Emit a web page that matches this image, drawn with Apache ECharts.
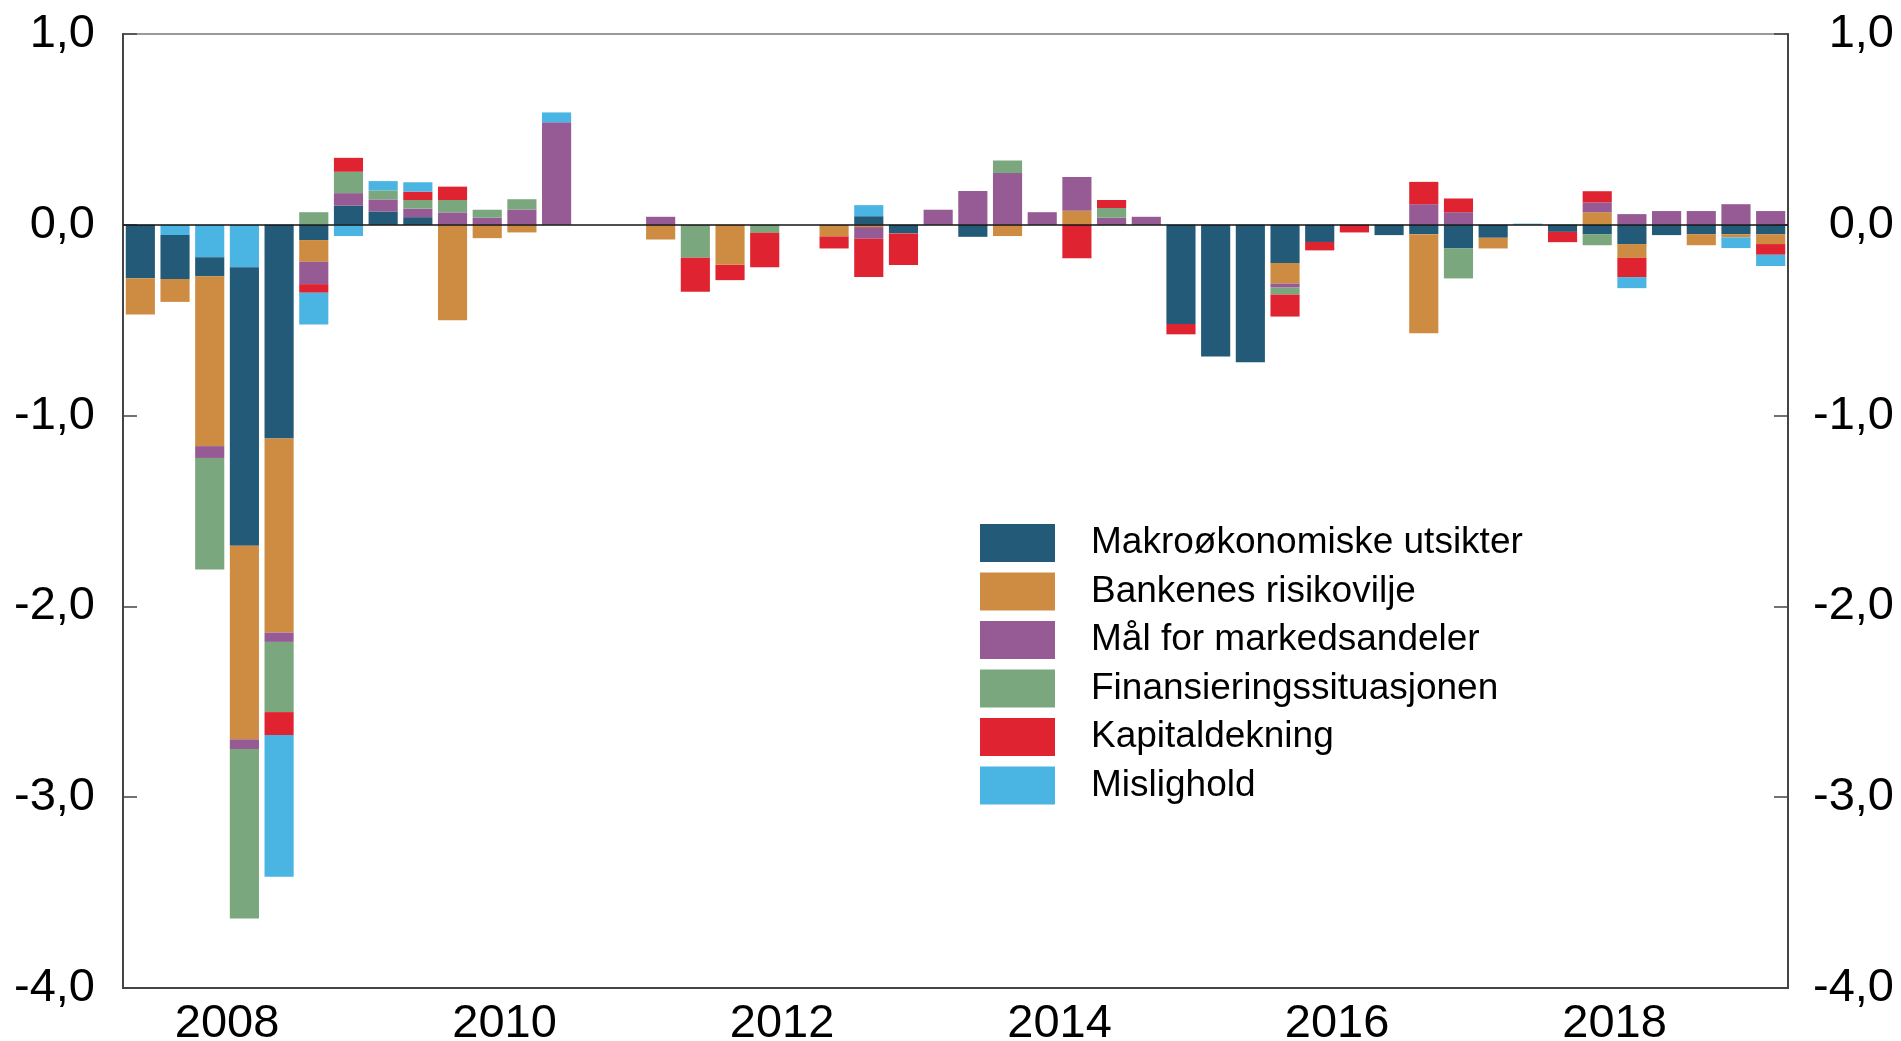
<!DOCTYPE html>
<html>
<head>
<meta charset="utf-8">
<script src="https://cdn.jsdelivr.net/npm/echarts@6/dist/echarts.min.js"></script>
<style>
html,body{margin:0;padding:0;background:#fff;}
#chart{width:1901px;height:1041px;}
</style>
</head>
<body>
<div id="chart"></div>
<script>
// Quarters 2007K4 .. 2019K3
const quarters = [];
for (let y = 2007; y <= 2019; y++) {
  for (let q = 1; q <= 4; q++) {
    if ((y === 2007 && q < 4) || (y === 2019 && q > 3)) continue;
    quarters.push(y + 'K' + q);
  }
}
const yearLabels = ['2008', '2010', '2012', '2014', '2016', '2018'];
const yTicks = [-4, -3, -2, -1, 0, 1];

const seriesNames = ['Makroøkonomiske utsikter', 'Bankenes risikovilje', 'Mål for markedsandeler',
  'Finansieringssituasjonen', 'Kapitaldekning', 'Mislighold'];

const makro = [-0.28,-0.23,-0.10,-1.46,-1.12,-0.08,0.10,0.07,0.04,0,0,0,
  0,0,0,0,0,0,0,0,0,0.045,-0.045,0,
  -0.063,0,0,0,0,0,-0.52,-0.69,-0.72,-0.20,-0.09,0,
  -0.054,-0.049,-0.124,-0.068,0,-0.037,-0.049,-0.101,-0.054,-0.049,-0.049,-0.049];
const bank = [-0.19,-0.12,-0.89,-1.015,-1.017,-0.114,0,0,0,-0.50,-0.07,-0.04,
  0,0,0,-0.077,0,-0.21,0,0,-0.061,-0.012,0,0,
  0,-0.059,0,0.073,0,0,0,0,0,-0.108,0,0,
  0,-0.519,0,-0.056,0,0,0.066,-0.072,0,-0.058,-0.017,-0.052];
const maal = [0,0,-0.062,-0.051,-0.049,-0.117,0.066,0.063,0.045,0.065,0.037,0.08,
  0.537,0,0,0.042,0,0,0,0,0,-0.061,0,0.079,
  0.177,0.271,0.066,0.177,0.037,0.042,0,0,0,-0.021,0,0,
  0,0.108,0.066,0,0,0,0.051,0.056,0.072,0.072,0.108,0.072];
const finans = [0,0,-0.585,-0.888,-0.368,0.066,0.112,0.047,0.045,0.065,0.042,0.054,
  0,0,0,0,-0.173,0,-0.042,0,0,0,0,0,
  0,0.066,0,0,0.051,0,0,0,0,-0.037,0,0,
  0,0,-0.157,0,0,0,-0.058,0,0,0,0,0];
const kapital = [0,0,0,0,-0.12,-0.045,0.073,0,0.044,0.07,0,0,
  0,0,0,0,-0.178,-0.08,-0.18,0,-0.063,-0.20,-0.166,0,
  0,0,0,-0.175,0.042,0,-0.054,0,0,-0.115,-0.044,-0.04,
  0,0.117,0.072,0,0,-0.054,0.059,-0.101,0,0,0,-0.056];
const mislighold = [0,-0.054,-0.17,-0.222,-0.743,-0.166,-0.059,0.049,0.049,0,0,0,
  0.052,0,0,0,0,0,0,0,0,0.058,0,0,
  0,0,0,0,0,0,0,0,0,0,0,0,
  0,0,0,0,0.006,0,0,-0.058,0,0,-0.056,-0.059];
// quarters where Mislighold is drawn next to the zero line in the original
const misligholdInnerIdx = [1, 2, 3];

const colors = ['#225a78', '#cd8c42', '#965a94', '#7aa77d', '#df2330', '#4ab4e2'];
const FONT = '"Liberation Sans", Arial, Helvetica, sans-serif';

const clean = arr => arr.map(v => (v === 0 ? '-' : v));
const mislInner = mislighold.map((v, i) => misligholdInnerIdx.includes(i) ? v : 0);
const mislOuter = mislighold.map((v, i) => misligholdInnerIdx.includes(i) ? 0 : v);

function bar(name, data, color, extra) {
  return Object.assign({
    name: name, type: 'bar', stack: 'total', xAxisIndex: 0, yAxisIndex: 0,
    barCategoryGap: '16%', data: clean(data),
    itemStyle: { color: color },
    emphasis: { disabled: true }
  }, extra || {});
}

const series = [
  bar(seriesNames[5], mislInner, colors[5]),
  bar(seriesNames[0], makro, colors[0]),
  bar(seriesNames[1], bank, colors[1]),
  bar(seriesNames[2], maal, colors[2]),
  bar(seriesNames[3], finans, colors[3]),
  bar(seriesNames[4], kapital, colors[4]),
  bar(seriesNames[5], mislOuter, colors[5], {
    markLine: {
      silent: true, symbol: ['none', 'none'], label: { show: false },
      lineStyle: { color: 'rgba(20,20,20,0.75)', width: 2, type: 'solid' },
      data: [{ yAxis: 0 }]
    }
  })
];

const fmt = v => v.toFixed(1).replace('.', ',');
const axisColor = '#444';

const chart = echarts.init(document.getElementById('chart'), null, { renderer: 'canvas' });
chart.setOption({
  animation: false,
  backgroundColor: '#fff',
  color: colors,
  textStyle: { fontFamily: FONT },
  grid: {
    left: 123, right: 113, top: 34, bottom: 53,
    show: true, borderColor: '#9a9a9a', borderWidth: 2, backgroundColor: 'transparent',
    containLabel: false, outerBoundsMode: 'none'
  },
  legend: {
    data: seriesNames,
    orient: 'vertical',
    left: 975, top: 519,
    itemWidth: 75, itemHeight: 38, itemGap: 10.5,
    icon: 'rect',
    textStyle: { fontSize: 37, color: '#000', fontFamily: FONT, padding: [0, 0, 0, 31] },
    selectedMode: false
  },
  xAxis: [
    {
      type: 'category', data: quarters, position: 'bottom',
      axisLine: { onZero: false, lineStyle: { color: axisColor, width: 2 } },
      axisTick: { inside: true, length: 16, interval: (i) => i % 4 === 1, lineStyle: { color: axisColor, width: 1.5 } },
      axisLabel: { show: false },
      splitLine: { show: false }
    },
    {
      type: 'value', min: 0, max: 48, interval: 1, position: 'bottom',
      axisLine: { show: false }, axisTick: { show: false }, splitLine: { show: false },
      axisLabel: {
        show: true, margin: 13, fontSize: 47, color: '#000', fontFamily: FONT,
        formatter: function (v) {
          const k = (v - 3) / 8;
          if (Number.isInteger(k) && k >= 0 && k < yearLabels.length) return yearLabels[k];
          return '';
        }
      }
    }
  ],
  yAxis: [
    {
      type: 'value', min: yTicks[0], max: yTicks[yTicks.length - 1], interval: 1, position: 'left',
      axisLine: { show: true, onZero: false, lineStyle: { color: axisColor, width: 2 } },
      axisTick: { show: true, inside: true, length: 14, lineStyle: { color: axisColor, width: 1.5 } },
      axisLabel: { margin: 28, fontSize: 47, color: '#000', fontFamily: FONT, formatter: fmt },
      splitLine: { show: false }
    },
    {
      type: 'value', min: yTicks[0], max: yTicks[yTicks.length - 1], interval: 1, position: 'right',
      axisLine: { show: true, onZero: false, lineStyle: { color: axisColor, width: 2 } },
      axisTick: { show: true, inside: true, length: 14, lineStyle: { color: axisColor, width: 1.5 } },
      axisLabel: { margin: 106, align: 'right', fontSize: 47, color: '#000', fontFamily: FONT, formatter: fmt },
      splitLine: { show: false }
    }
  ],
  series: series
});
</script>
</body>
</html>
